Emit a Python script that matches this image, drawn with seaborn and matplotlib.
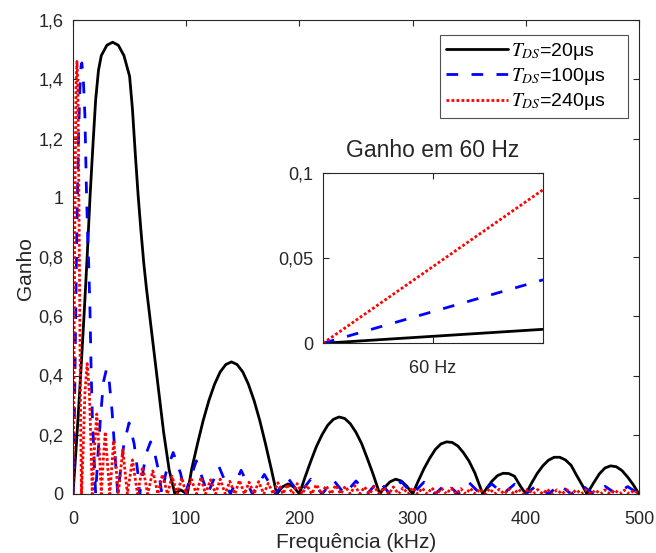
import numpy as np
import matplotlib
matplotlib.use("Agg")
import matplotlib.pyplot as plt
import seaborn as sns

# ---------------- data ----------------
# black: T_DS = 20 us  (frequency kHz, gain)
black_f = [0, 2.5, 5, 7.5, 10, 12.5, 15, 17.5, 20, 22.5, 25, 30, 35, 40, 45, 50, 52.5, 55,
           57.5, 60, 62.5, 65, 70, 75, 80, 85, 90, 95, 101, 105, 110, 115, 120, 125, 130,
           135, 140, 145, 150, 155, 160, 165, 170, 175, 180, 185, 190, 195, 200, 205, 210,
           215, 220, 225, 230, 235, 240, 245, 250, 255, 260, 265, 271, 275, 280, 285, 290,
           295, 300, 305, 310, 315, 320, 325, 330, 335, 340, 345, 350, 355, 362, 365, 370,
           375, 380, 385, 390, 395, 400, 405, 410, 415, 420, 425, 430, 435, 440, 445, 450,
           454, 460, 465, 470, 475, 480, 485, 490, 495, 500]
black_g = [0, 0.14, 0.29, 0.45, 0.62, 0.80, 1.00, 1.17, 1.33, 1.43, 1.48, 1.515, 1.525,
           1.515, 1.48, 1.41, 1.30, 1.15, 1.01, 0.89, 0.78, 0.69, 0.53, 0.37, 0.21, 0.08,
           0.0, 0.014, 0.0, 0.087, 0.17, 0.248, 0.315, 0.37, 0.412, 0.437, 0.446, 0.437,
           0.412, 0.37, 0.315, 0.248, 0.17, 0.087, 0.0, 0.024, 0.034, 0.024, 0.0, 0.057,
           0.11, 0.16, 0.20, 0.232, 0.252, 0.26, 0.255, 0.237, 0.208, 0.17, 0.12, 0.068,
           0.0, 0.021, 0.041, 0.05, 0.044, 0.026, 0.0, 0.044, 0.085, 0.12, 0.15, 0.169,
           0.176, 0.174, 0.162, 0.139, 0.11, 0.071, 0.0, 0.017, 0.043, 0.062, 0.07, 0.069,
           0.06, 0.028, 0.0, 0.036, 0.069, 0.095, 0.114, 0.124, 0.124, 0.115, 0.097, 0.062,
           0.029, 0.0, 0.038, 0.068, 0.088, 0.095, 0.092, 0.079, 0.057, 0.031, 0.0]

# blue: T_DS = 100 us  (non-zero points, then zero crossings)
blue_pf = [1, 2, 3, 4, 5, 6, 7, 7.8, 9, 10.5, 12, 13, 14, 15, 16, 17, 18, 19,
           22, 24.5, 27, 29.5, 32, 34.5, 37,
           42, 45, 49.5, 54, 57,
           62, 65, 68.5, 72, 75.5,
           82, 88.5, 95,
           109, 129, 148.5, 169, 189.5, 210, 230, 250, 270, 290, 310, 330, 350, 370,
           390, 410, 430, 450, 470, 490]
blue_pg = [0.2, 0.48, 0.78, 1.02, 1.22, 1.36, 1.44, 1.455, 1.41, 1.28, 1.0, 0.87, 0.76,
           0.62, 0.42, 0.27, 0.18, 0.09,
           0.13, 0.27, 0.38, 0.42, 0.38, 0.28, 0.14,
           0.08, 0.17, 0.24, 0.17, 0.08,
           0.08, 0.14, 0.176, 0.14, 0.08,
           0.07, 0.14, 0.07,
           0.112, 0.092, 0.08, 0.066, 0.056, 0.05, 0.047, 0.044, 0.046, 0.042, 0.04,
           0.037, 0.038, 0.034, 0.033, 0.03, 0.031, 0.028, 0.026, 0.025]
blue_zf = [0, 20, 39.5, 59, 78.5, 99, 119, 139, 158.5, 179, 200, 220, 240, 260, 280, 300,
           320, 340, 360, 380, 400, 420, 440, 460, 480, 500]

# red: T_DS = 240 us  (non-zero points, then zero crossings)
red_pf = [0.7, 1.3, 2, 2.7, 3.5, 4.3, 5, 5.8, 6.6,
          9, 10.5, 12.5, 14.5, 16,
          18.5, 21, 23.5,
          26.5, 28.5, 30.5,
          36, 44, 52.5, 61.5, 70.5, 79, 87.5, 96, 104.5, 113, 121.5, 130, 138.5, 147,
          155.5, 164, 172.5, 181, 189.5, 198, 206.5, 215, 223.5, 232, 240.5, 249, 257.5,
          266, 274.5, 283, 291.5, 300, 308.5, 317, 325.5, 334, 342.5, 351, 359.5, 368,
          376.5, 385, 393.5, 402, 410.5, 419, 427.5, 436, 444.5, 453, 461.5, 470, 478.5,
          487, 495.5]
red_pg = [0.3, 0.7, 1.1, 1.38, 1.46, 1.38, 1.1, 0.7, 0.3,
          0.15, 0.34, 0.44, 0.34, 0.15,
          0.13, 0.27, 0.13,
          0.1, 0.21, 0.1,
          0.18, 0.15, 0.115, 0.092, 0.078, 0.066, 0.06, 0.055, 0.05, 0.056, 0.048, 0.05,
          0.043, 0.046, 0.04, 0.042, 0.036, 0.038, 0.033, 0.035, 0.03, 0.032, 0.028, 0.03,
          0.026, 0.028, 0.024, 0.026, 0.022, 0.024, 0.021, 0.022, 0.02, 0.021, 0.019,
          0.02, 0.018, 0.019, 0.017, 0.018, 0.016, 0.017, 0.016, 0.016, 0.015, 0.016,
          0.014, 0.015, 0.014, 0.014, 0.013, 0.014, 0.013, 0.013, 0.012]
red_zf = [0, 7.5, 17, 25, 32.5, 40, 48, 57, 66, 75, 83.5, 92, 100, 109, 117, 126, 134.5,
          143, 151.5, 160, 168.5, 177, 185.5, 194, 202.5, 211, 219.5, 228, 236.5, 245,
          253.5, 262, 270.5, 279, 287.5, 296, 304.5, 313, 321.5, 330, 338.5, 347, 355.5,
          364, 372.5, 381, 389.5, 398, 406.5, 415, 423.5, 432, 440.5, 449, 457.5, 466,
          474.5, 483, 491.5, 500]

# inset: gain near 60 Hz (Hz, gain)
inset_f = [0, 60, 120]
inset_black = [0, 0.0041, 0.0082]
inset_blue = [0, 0.0186, 0.0372]
inset_red = [0, 0.045, 0.090]

labels = [r"$T_{DS}$=20μs", r"$T_{DS}$=100μs", r"$T_{DS}$=240μs"]
yticks_main = [0, 0.2, 0.4, 0.6, 0.8, 1.0, 1.2, 1.4, 1.6]
ytick_labels_main = ["0", "0,2", "0,4", "0,6", "0,8", "1", "1,2", "1,4", "1,6"]
xticks_main = [0, 100, 200, 300, 400, 500]
yticks_inset = [0, 0.05, 0.1]
ytick_labels_inset = ["0", "0,05", "0,1"]


def merge(pf, pg, zf):
    f = np.concatenate([np.asarray(pf, float), np.asarray(zf, float)])
    g = np.concatenate([np.asarray(pg, float), np.zeros(len(zf))])
    o = np.argsort(f, kind="stable")
    return f[o], g[o]


blue_f, blue_g = merge(blue_pf, blue_pg, blue_zf)
red_f, red_g = merge(red_pf, red_pg, red_zf)

# ---------------- style ----------------
sns.set_style("ticks")
plt.rcParams["font.family"] = ["Liberation Sans", "DejaVu Sans"]
plt.rcParams["mathtext.fontset"] = "stix"
TXT = "#262626"

BLUE_LS = (0, (4.2, 4.8))
RED_LS = (0, (1.0, 0.8))

fig = plt.figure(figsize=(6.56, 5.53), dpi=100)
ax = fig.add_axes([73 / 656, 59 / 553, 566 / 656, 474 / 553])

pad_lbl = "\u00a0\u00a0\u00a0\u00a0"
sns.lineplot(x=black_f, y=black_g, ax=ax, color="black", lw=2.0, sort=False,
             estimator=None, label=labels[0] + pad_lbl)
sns.lineplot(x=blue_f, y=blue_g, ax=ax, color="#0000FF", lw=2.0, sort=False,
             estimator=None, linestyle=BLUE_LS, label=labels[1] + pad_lbl)
sns.lineplot(x=red_f, y=red_g, ax=ax, color="#FF0000", lw=2.0, sort=False,
             estimator=None, linestyle=RED_LS, label=labels[2] + pad_lbl)
for ln in ax.lines:
    ln.set_dash_capstyle("butt")

ax.set_xlim(0, 500)
ax.set_ylim(0, 1.6)
ax.set_xticks(xticks_main)
ax.set_xticklabels([str(v) for v in xticks_main])
ax.set_yticks(yticks_main)
ax.set_yticklabels(ytick_labels_main)
ax.set_xlabel("Frequência (kHz)", fontsize=15, color=TXT, labelpad=4)
ax.set_ylabel("Ganho", fontsize=15, color=TXT)
ax.yaxis.set_label_coords(-0.067, 0.475)


def style_axes(a):
    a.tick_params(direction="in", top=True, right=True, length=4, width=0.8,
                  color=TXT, labelcolor=TXT, labelsize=13, pad=7)
    a.tick_params(axis="x", pad=12)
    for s in a.spines.values():
        s.set_visible(True)
        s.set_color(TXT)
        s.set_linewidth(0.8)


style_axes(ax)

leg = ax.legend(loc="upper left", bbox_to_anchor=((440 - 73) / 566, (494 - 35) / 474),
                borderaxespad=0, fancybox=False, frameon=True, fontsize=14,
                handlelength=3.2, handletextpad=0.15, labelspacing=0.22,
                borderpad=0.3)
leg.get_frame().set_edgecolor(TXT)
leg.get_frame().set_linewidth(0.8)
for t in leg.get_texts():
    t.set_color("black")

# ---------------- inset ----------------
axi = fig.add_axes([323 / 656, (553 - 343.3) / 553, 220 / 656, 170.6 / 553])
sns.lineplot(x=inset_f, y=inset_black, ax=axi, color="black", lw=2.0, estimator=None)
sns.lineplot(x=inset_f, y=inset_blue, ax=axi, color="#0000FF", lw=2.0, estimator=None,
             linestyle=BLUE_LS)
sns.lineplot(x=inset_f, y=inset_red, ax=axi, color="#FF0000", lw=2.0, estimator=None,
             linestyle=RED_LS)
for ln in axi.lines:
    ln.set_dash_capstyle("butt")
axi.set_xlim(0, 120)
axi.set_ylim(0, 0.1)
axi.set_xticks([60])
axi.set_xticklabels(["60 Hz"])
axi.set_yticks(yticks_inset)
axi.set_yticklabels(ytick_labels_inset)
axi.set_xlabel("")
axi.set_ylabel("")
axi.set_title("Ganho em 60 Hz", fontsize=16.5, color=TXT, pad=11)
style_axes(axi)
if axi.get_legend() is not None:
    axi.get_legend().remove()

fig.savefig("out.png", dpi=100, facecolor="white")
